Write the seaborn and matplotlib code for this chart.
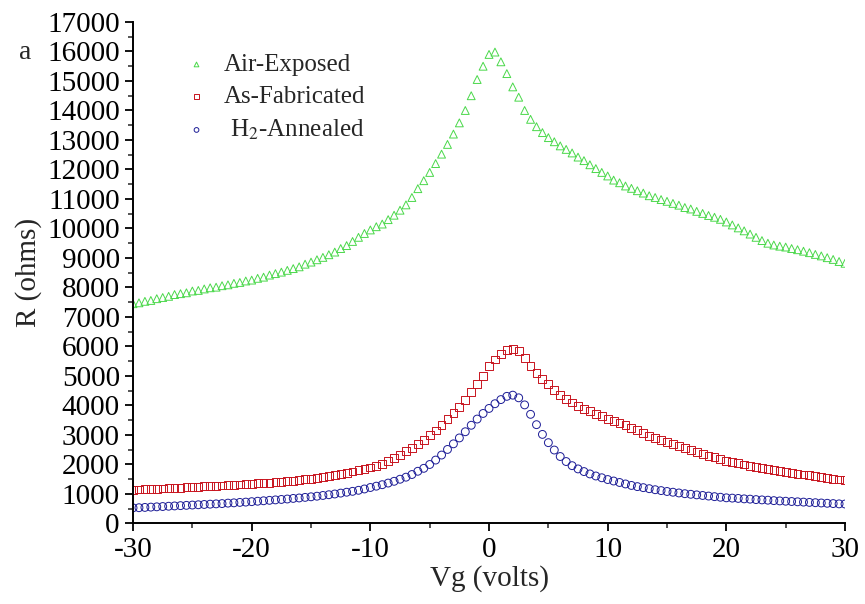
import numpy as np
import pandas as pd
import matplotlib
matplotlib.use("Agg")
import matplotlib.pyplot as plt
from matplotlib.ticker import MultipleLocator
import seaborn as sns

# gate voltage grid (volts)
vg = np.arange(-30, 30.5, 0.5)

# resistance (ohms), one value per 0.5 V
air_exposed = [
    7450, 7480, 7530, 7560, 7620, 7660, 7700, 7760, 7790, 7820,
    7880, 7900, 7950, 7990, 8010, 8060, 8090, 8140, 8170, 8220,
    8250, 8310, 8350, 8420, 8470, 8520, 8580, 8640, 8700, 8790,
    8860, 8940, 9020, 9110, 9200, 9320, 9420, 9560, 9700, 9830,
    9950, 10060, 10150, 10300, 10450, 10620, 10800, 11050, 11350, 11620,
    11900, 12200, 12520, 12850, 13200, 13580, 14000, 14500, 15050, 15500,
    15900, 15980, 15650, 15250, 14800, 14450, 14000, 13700, 13450, 13250,
    13080, 12940, 12800, 12680, 12560, 12420, 12300, 12160, 12030, 11900,
    11780, 11640, 11550, 11440, 11360, 11280, 11200, 11110, 11050, 10980,
    10920, 10850, 10790, 10710, 10660, 10580, 10510, 10440, 10380, 10310,
    10220, 10120, 10020, 9920, 9810, 9700, 9590, 9500, 9440, 9400,
    9370, 9320, 9280, 9230, 9180, 9120, 9070, 9010, 8950, 8880,
    8820,
]

as_fabricated = [
    1140, 1150, 1155, 1165, 1170, 1185, 1190, 1205, 1215, 1230,
    1245, 1250, 1260, 1270, 1280, 1290, 1300, 1310, 1320, 1330,
    1345, 1360, 1370, 1385, 1400, 1415, 1430, 1450, 1470, 1495,
    1520, 1545, 1575, 1605, 1640, 1680, 1720, 1760, 1805, 1850,
    1900, 1960, 2030, 2110, 2220, 2330, 2450, 2570, 2700, 2840,
    2990, 3150, 3330, 3530, 3740, 3960, 4200, 4450, 4720, 5000,
    5350, 5560, 5740, 5870, 5920, 5850, 5620, 5350, 5100, 4900,
    4720, 4530, 4350, 4220, 4100, 3990, 3890, 3800, 3710, 3630,
    3550, 3470, 3400, 3330, 3250, 3170, 3080, 2980, 2900, 2820,
    2750, 2690, 2620, 2560, 2490, 2430, 2370, 2300, 2240, 2180,
    2120, 2080, 2040, 2000, 1960, 1920, 1880, 1850, 1810, 1780,
    1750, 1720, 1690, 1660, 1630, 1600, 1570, 1540, 1515, 1490,
    1470,
]

h2_annealed = [
    530, 535, 545, 555, 565, 575, 585, 595, 605, 615,
    625, 635, 645, 655, 665, 675, 690, 700, 715, 725,
    740, 755, 770, 785, 800, 815, 830, 850, 865, 885,
    905, 925, 950, 975, 1000, 1030, 1060, 1090, 1125, 1170,
    1220, 1265, 1315, 1370, 1430, 1500, 1570, 1660, 1770, 1870,
    2000, 2150, 2320, 2510, 2700, 2900, 3110, 3330, 3540, 3730,
    3900, 4060, 4200, 4310, 4350, 4260, 4020, 3700, 3350, 3020,
    2740, 2490, 2270, 2100, 1960, 1850, 1760, 1680, 1610, 1550,
    1490, 1440, 1390, 1340, 1290, 1250, 1215, 1180, 1145, 1115,
    1085, 1060, 1035, 1010, 990, 970, 950, 930, 910, 890,
    870, 860, 850, 835, 825, 810, 800, 790, 775, 765,
    755, 745, 735, 725, 715, 705, 695, 685, 675, 665,
    660,
]

labels = ["Air-Exposed", "As-Fabricated", " H$_2$-Annealed"]
series = [air_exposed, as_fabricated, h2_annealed]
colors = ["#4ad84a", "#c8141e", "#1c1c96"]
markers = ["^", "s", "o"]

sns.set_style("ticks")
plt.rcParams["font.family"] = ["Liberation Serif", "DejaVu Serif"]
plt.rcParams["mathtext.fontset"] = "stix"
plt.rcParams["axes.unicode_minus"] = False

fig = plt.figure(figsize=(8.65, 6.04), dpi=100)
ax = fig.add_axes([0.1538, 0.1333, 0.8231, 0.8303])

for lab, vals, c, m in zip(labels, series, colors, markers):
    df = pd.DataFrame({"Vg": vg, "R": vals})
    sns.scatterplot(data=df, x="Vg", y="R", ax=ax, marker=m, s=32,
                    facecolor="none", edgecolor=c, linewidth=0.7, label=lab)

ax.set_xlim(-30, 30)
ax.set_ylim(0, 17000)
ax.xaxis.set_major_locator(MultipleLocator(10))
ax.xaxis.set_minor_locator(MultipleLocator(5))
ax.yaxis.set_major_locator(MultipleLocator(1000))
ax.yaxis.set_minor_locator(MultipleLocator(500))
ax.tick_params(which="major", direction="out", length=6, width=1.3,
               labelsize=21, colors="black")
ax.tick_params(which="minor", direction="out", length=3.5, width=1.1)
for s in ["top", "right"]:
    ax.spines[s].set_visible(False)
for s in ["left", "bottom"]:
    ax.spines[s].set_linewidth(1.4)
    ax.spines[s].set_color("black")

ax.set_xlabel("Vg (volts)", fontsize=21, labelpad=2)
ax.set_ylabel("R (ohms)", fontsize=21, labelpad=4)

leg = ax.legend(loc="upper left", bbox_to_anchor=(0.04, 0.982), frameon=False,
                fontsize=18, handletextpad=0.6, labelspacing=0.38,
                markerscale=0.6, handlelength=1.0)

fig.text(0.022, 0.913, "a", fontsize=20, va="center")

fig.savefig("out.png", dpi=100)
